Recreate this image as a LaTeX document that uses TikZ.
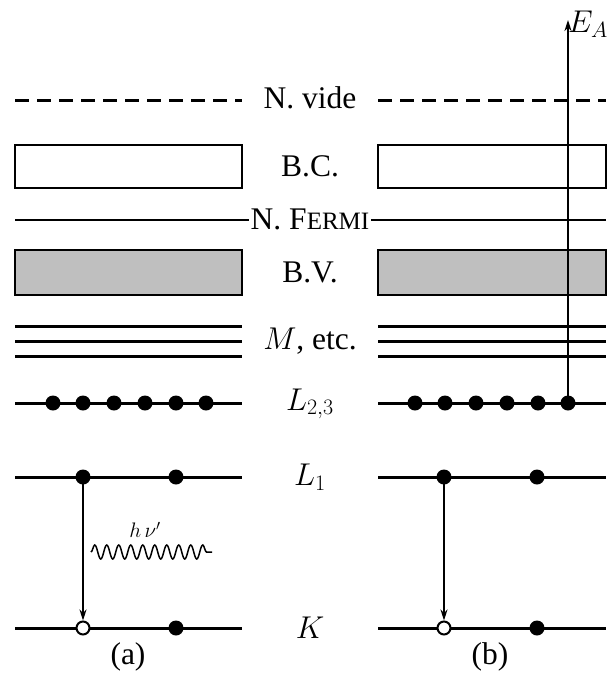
\documentclass[tikz,border=0pt]{standalone}
\usepackage{fix-cm}
\usepackage{fontspec}
\setmainfont{Liberation Serif}
\usetikzlibrary{decorations.pathmorphing,arrows.meta}
\begin{document}
\begin{tikzpicture}[x=1pt,y=-1pt,
  lvl/.style={line width=3pt},
  band/.style={draw,line width=2pt},
  dot/.style={circle,fill=black,inner sep=0pt,minimum size=15pt},
  hole/.style={circle,draw,fill=white,line width=2pt,inner sep=0pt,minimum size=13pt},
  lab/.style={font=\fontsize{31.5}{36}\selectfont},
  arr/.style={line width=2pt,-{Stealth[length=11pt,width=7pt]}}]
\useasboundingbox (0,0) rectangle (614,673);
% vacuum
\draw[lvl,dash pattern=on 14pt off 8pt] (15,100) -- (242,100);
\draw[lvl,dash pattern=on 14pt off 8pt] (378,100) -- (606,100);
\node[lab] (vide) at (310,98) {N. vide};
% BC
\draw[band] (15,145) rectangle (242,188);
\draw[band] (378,145) rectangle (606,188);
\node[lab] (bc) at (310,166) {B.C.};
% Fermi
\node[lab,inner sep=2pt] (fermi) at (310,219) {N. F{\fontsize{25}{28}\selectfont ERMI}};
\draw[line width=2pt] (15,220) -- (fermi.west |- 0,220);
\draw[line width=2pt] (fermi.east |- 0,220) -- (606,220);
% BV
\draw[band,fill=black!25] (15,250) rectangle (242,295);
\draw[band,fill=black!25] (378,250) rectangle (606,295);
\node[lab] (bv) at (310,272) {B.V.};
% M
\foreach \y in {326,341,356}{
  \draw[lvl] (15,\y) -- (242,\y);
  \draw[lvl] (378,\y) -- (606,\y);
}
\node[lab] (m) at (310,341) {$M$, etc.};
% L23
\draw[lvl] (15,403) -- (242,403);
\draw[lvl] (378,403) -- (606,403);
\foreach \i/\x in {1/53,2/83,3/114,4/145,5/176,6/206}{
  \node[dot] (la\i) at (\x,403) {};
  \node[dot] (lb\i) at (\x+362,403) {};
}
\node[lab] (l23) at (310,404) {$L_{2,3}$};
% L1
\draw[lvl] (15,477) -- (242,477);
\draw[lvl] (378,477) -- (606,477);
\node[dot] (l1a) at (83,477) {};
\node[dot] (l1a2) at (176,477) {};
\node[dot] (l1b) at (444,477) {};
\node[dot] (l1b2) at (537,477) {};
\node[lab] (l1) at (310,477) {$L_1$};
% K
\draw[lvl] (15,628) -- (242,628);
\draw[lvl] (378,628) -- (606,628);
\node[hole] (ka) at (83,628) {};
\node[dot] (ka2) at (176,628) {};
\node[hole] (kb) at (444,628) {};
\node[dot] (kb2) at (537,628) {};
\node[lab] (k) at (310,628) {$K$};
% transitions
\draw[arr] (l1a.center) -- (ka.north);
\draw[arr] (l1b.center) -- (kb.north);
% photon
\coordinate (w0) at (91,552);
\coordinate (w1) at (212,552);
\draw[line width=1.5pt,decorate,decoration={snake,segment length=12pt,amplitude=7pt}] (w0) -- (w1);
\node[font=\fontsize{21}{24}\selectfont] (hnu) at (145,530) {$h\,\nu'$};
% Auger
\coordinate (ea) at (568,20);
\draw[arr] (lb6.center) -- (ea);
\node[lab,anchor=west,inner sep=1pt] (eal) at (567,24) {$E_A$};
% captions
\node[lab] (a) at (128,657) {(a)};
\node[lab] (b) at (490,657) {(b)};
\end{tikzpicture}
\end{document}
